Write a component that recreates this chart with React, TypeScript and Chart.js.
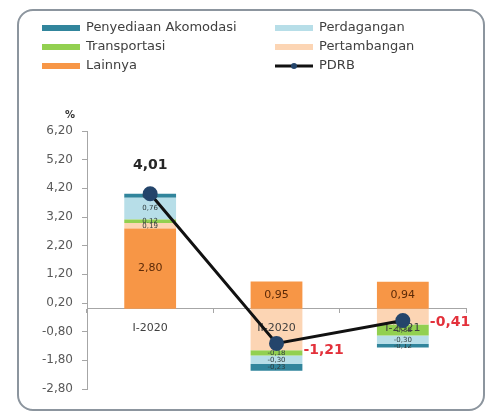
import React, { useEffect, useRef } from "react";
import { Chart, registerables } from "chart.js";

Chart.register(...registerables);

// Quarterly growth contributions (percentage points) by sector, plus total PDRB growth
const categories = ["I-2020", "II-2020", "I-2021"];
const lainnya = [2.8, 0.95, 0.94];
const pertambangan = [0.19, -1.45, -0.55];
const transportasi = [0.12, -0.18, -0.38];
const perdagangan = [0.76, -0.3, -0.3];
const akomodasi = [0.14, -0.23, -0.12];
const pdrb = [4.01, -1.21, -0.41];
const yTicks = [-2.8, -1.8, -0.8, 0.2, 1.2, 2.2, 3.2, 4.2, 5.2, 6.2];

const COLORS = {
  akomodasi: "#31859c",
  perdagangan: "#b7dee8",
  transportasi: "#92d050",
  pertambangan: "#fcd5b4",
  lainnya: "#f79646",
  pdrbLine: "#111111",
  pdrbPoint: "#24456b",
};

const FONT = "'DejaVu Sans', sans-serif";

const fmt = (v: number) => v.toFixed(2).replace(".", ",");

// Value labels inside each stacked segment; once the bottom (Lainnya) layer is done,
// the category names are written just under the zero line, on top of the bars.
const segmentLabels = {
  id: "segmentLabels",
  afterDatasetDraw(chart: any, args: any) {
    const meta = args.meta;
    if (meta.type !== "bar") return;
    const ds = chart.data.datasets[args.index];
    const ctx = chart.ctx;
    ctx.save();
    ctx.textAlign = "center";
    ctx.textBaseline = "middle";
    meta.data.forEach((el: any, i: number) => {
      const v = ds.data[i] as number;
      // the category name sits on the first negative segment, so it carries no value label
      if (ds.label === "Pertambangan" && v < 0) return;
      const { x, y, base } = el.getProps(["x", "y", "base"], true);
      const big = Math.abs(v) >= 0.9;
      ctx.font = `${big ? 11 : 7}px ${FONT}`;
      ctx.fillStyle = ds.label === "Lainnya" ? "#5c2a08" : "#2f3b3b";
      ctx.fillText(fmt(v), x, (y + base) / 2);
    });
    if (args.index === 0) {
      const xs = chart.scales.x;
      const zeroY = chart.scales.y.getPixelForValue(0);
      ctx.font = `11px ${FONT}`;
      ctx.fillStyle = "#404040";
      categories.forEach((c, i) => {
        ctx.fillText(c, xs.getPixelForValue(i), zeroY + 19);
      });
    }
    ctx.restore();
  },
};

// PDRB totals next to the line points
const totalLabels = {
  id: "totalLabels",
  afterDatasetsDraw(chart: any) {
    const idx = chart.data.datasets.findIndex((d: any) => d.label === "PDRB");
    const meta = chart.getDatasetMeta(idx);
    const ctx = chart.ctx;
    ctx.save();
    ctx.font = `bold 14px ${FONT}`;
    ctx.textBaseline = "middle";
    meta.data.forEach((pt: any, i: number) => {
      const v = pdrb[i];
      if (v >= 0) {
        ctx.fillStyle = "#262626";
        ctx.textAlign = "center";
        ctx.fillText(fmt(v), pt.x, pt.y - 28);
      } else {
        ctx.fillStyle = "#e3313b";
        ctx.textAlign = "left";
        ctx.fillText(fmt(v), pt.x + 27, pt.y + (i === 1 ? 7 : 2));
      }
    });
    ctx.restore();
  },
};

// Two-column legend and the unit label above the value axis
const legendBlock = {
  id: "legendBlock",
  afterDraw(chart: any) {
    const ctx = chart.ctx;
    const rows = [
      [
        { label: "Penyediaan Akomodasi", color: COLORS.akomodasi },
        { label: "Perdagangan", color: COLORS.perdagangan },
      ],
      [
        { label: "Transportasi", color: COLORS.transportasi },
        { label: "Pertambangan", color: COLORS.pertambangan },
      ],
      [
        { label: "Lainnya", color: COLORS.lainnya },
        { label: "PDRB", color: "line" },
      ],
    ];
    const cols = [42, 275];
    const rowY = [28, 47, 66];
    ctx.save();
    ctx.font = `13px ${FONT}`;
    ctx.textBaseline = "middle";
    ctx.textAlign = "left";
    rows.forEach((row, r) => {
      row.forEach((item, c) => {
        const x0 = cols[c];
        const y = rowY[r];
        if (item.color === "line") {
          ctx.strokeStyle = COLORS.pdrbLine;
          ctx.lineWidth = 3;
          ctx.beginPath();
          ctx.moveTo(x0, y);
          ctx.lineTo(x0 + 38, y);
          ctx.stroke();
          ctx.fillStyle = COLORS.pdrbPoint;
          ctx.beginPath();
          ctx.arc(x0 + 19, y, 3, 0, Math.PI * 2);
          ctx.fill();
        } else {
          ctx.fillStyle = item.color;
          ctx.fillRect(x0, y - 3, 38, 6);
        }
        ctx.fillStyle = "#404040";
        ctx.fillText(item.label, x0 + 44, y);
      });
    });
    ctx.font = `bold 10px ${FONT}`;
    ctx.textAlign = "center";
    ctx.fillStyle = "#333333";
    ctx.fillText("%", 70, 115);
    ctx.restore();
  },
};

export default function App() {
  const canvasRef = useRef<HTMLCanvasElement | null>(null);

  useEffect(() => {
    document.body.style.margin = "0";
    const canvas = canvasRef.current;
    if (!canvas) return;

    const barSet = (label: string, data: number[], color: string) => ({
      type: "bar" as const,
      label,
      data,
      backgroundColor: color,
      borderWidth: 0,
      stack: "sektor",
      order: 1,
      barPercentage: 0.41,
      categoryPercentage: 1,
    });

    const chart = new Chart(canvas, {
      type: "bar",
      data: {
        labels: categories,
        datasets: [
          barSet("Lainnya", lainnya, COLORS.lainnya),
          barSet("Pertambangan", pertambangan, COLORS.pertambangan),
          barSet("Transportasi", transportasi, COLORS.transportasi),
          barSet("Perdagangan", perdagangan, COLORS.perdagangan),
          barSet("Penyediaan Akomodasi", akomodasi, COLORS.akomodasi),
          {
            type: "line" as const,
            label: "PDRB",
            data: pdrb,
            borderColor: COLORS.pdrbLine,
            borderWidth: 3,
            pointRadius: 6,
            pointHoverRadius: 6,
            pointBackgroundColor: COLORS.pdrbPoint,
            pointBorderColor: COLORS.pdrbPoint,
            stack: "pdrb",
            order: 0,
            tension: 0,
          } as any,
        ],
      },
      options: {
        responsive: false,
        maintainAspectRatio: false,
        animation: false,
        layout: { padding: { top: 131, left: 0, right: 20, bottom: 23 } },
        plugins: {
          legend: { display: false },
          tooltip: { enabled: false },
        },
        scales: {
          x: {
            type: "category",
            position: { y: 0 } as any,
            offset: true,
            grid: {
              offset: true,
              drawOnChartArea: false,
              drawTicks: true,
              tickLength: 4,
              color: "#a6a6a6",
            },
            border: { display: true, color: "#a6a6a6", width: 1 },
            ticks: { display: false },
          },
          y: {
            type: "linear",
            stacked: true,
            min: -2.8,
            max: 6.2,
            afterBuildTicks: (scale: any) => {
              scale.ticks = yTicks.map((v) => ({ value: v }));
            },
            afterFit: (scale: any) => {
              scale.width = 87;
            },
            grid: {
              drawOnChartArea: false,
              drawTicks: true,
              tickLength: 5,
              color: "#a6a6a6",
            },
            border: { display: true, color: "#a6a6a6", width: 1 },
            ticks: {
              font: { family: FONT, size: 12 },
              color: "#595959",
              padding: 9,
              callback: (v: any) => fmt(Number(v)),
            },
          },
        },
      },
      plugins: [segmentLabels, totalLabels, legendBlock],
    });

    return () => chart.destroy();
  }, []);

  return (
    <div style={{ position: "relative", width: 486, height: 412, background: "#ffffff" }}>
      <canvas ref={canvasRef} width={486} height={412} style={{ position: "absolute", left: 0, top: 0 }} />
      <div
        style={{
          position: "absolute",
          left: 17,
          top: 9,
          width: 468,
          height: 402,
          border: "2px solid #8c959e",
          borderRadius: 16,
          boxSizing: "border-box",
          pointerEvents: "none",
        }}
      />
    </div>
  );
}
